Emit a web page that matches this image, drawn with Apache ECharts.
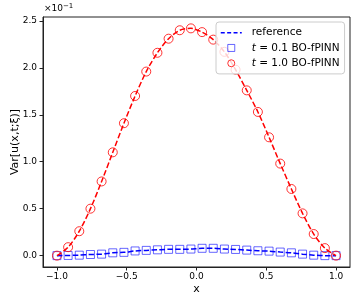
<!DOCTYPE html>
<html>
<head>
<meta charset="utf-8">
<script src="https://cdn.jsdelivr.net/npm/echarts@6/dist/echarts.min.js"></script>
<style>html,body{margin:0;padding:0;background:#fff}#c{width:357px;height:303px}</style>
</head>
<body>
<div id="c"></div>
<script>
// x grid (markers every 0.08)
const xs = [-1.00,-0.92,-0.84,-0.76,-0.68,-0.60,-0.52,-0.44,-0.36,-0.28,-0.20,-0.12,-0.04,
             0.04, 0.12, 0.20, 0.28, 0.36, 0.44, 0.52, 0.60, 0.68, 0.76, 0.84, 0.92, 1.00];
// variance values in units of 1e-1
const varT01 = [0.000,0.002,0.005,0.012,0.016,0.030,0.035,0.050,0.056,0.062,0.067,0.067,0.070,
                0.078,0.078,0.070,0.066,0.059,0.052,0.048,0.038,0.030,0.016,0.005,0.000,0.000];
const varT10 = [0.00,0.09,0.26,0.50,0.79,1.10,1.41,1.70,1.96,2.16,2.31,2.40,2.42,
                2.38,2.30,2.17,1.98,1.76,1.53,1.26,0.98,0.71,0.45,0.23,0.08,0.00];
const xTicks = [-1.0,-0.5,0.0,0.5,1.0];
const yTicks = [0.0,0.5,1.0,1.5,2.0,2.5];

const pair = (a) => xs.map((x,i)=>[x,a[i]]);
const fmt = v => (v < 0 ? '\u2212' : '') + Math.abs(v).toFixed(1);
const axisColor = '#222';
const font = 'DejaVu Sans';

const chart = echarts.init(document.getElementById('c'), null, {renderer:'canvas'});
chart.setOption({
  animation:false,
  backgroundColor:'#fff',
  grid:{left:43,right:7,top:17,bottom:36,containLabel:false,outerBoundsMode:'none',
        show:true,borderColor:axisColor,borderWidth:1,backgroundColor:'transparent'},
  xAxis:{
    type:'value',min:-1.1,max:1.1,
    name:'x',nameLocation:'middle',nameGap:17,nameMoveOverlap:false,
    nameTextStyle:{fontFamily:font,fontSize:11,color:'#000'},
    axisLine:{show:true,onZero:false,lineStyle:{color:axisColor,width:1}},
    axisTick:{show:true,inside:false,length:3.5,lineStyle:{color:axisColor},customValues:xTicks},
    axisLabel:{show:true,margin:5,fontFamily:font,fontSize:9,color:'#000',formatter:fmt,customValues:xTicks},
    splitLine:{show:false}
  },
  yAxis:{
    type:'value',min:-0.121,max:2.541,
    name:'Var[u(x,t;\u03BE)]',nameLocation:'middle',nameGap:22,nameRotate:90,nameMoveOverlap:false,
    nameTextStyle:{fontFamily:font,fontSize:11,color:'#000'},
    axisLine:{show:true,onZero:false,lineStyle:{color:axisColor,width:1}},
    axisTick:{show:true,inside:false,length:3.5,lineStyle:{color:axisColor},customValues:yTicks},
    axisLabel:{show:true,margin:6,fontFamily:font,fontSize:9,color:'#000',formatter:fmt,customValues:yTicks},
    splitLine:{show:false}
  },
  legend:{
    orient:'vertical',left:216,top:22,
    backgroundColor:'rgba(255,255,255,0.8)',borderColor:'#ccc',borderWidth:1,borderRadius:3,
    padding:[4,5,4,4],itemGap:2,itemWidth:21,itemHeight:7,
    itemStyle:{borderWidth:1},
    textStyle:{fontFamily:font,fontSize:10.5,color:'#000',lineHeight:13.3,padding:[0,0,0,5],
      rich:{i:{fontFamily:font,fontStyle:'italic',fontSize:10.5,color:'#000'}}},
    formatter: n => n==='reference' ? 'reference' : (n==='t01' ? '{i|t} = 0.1 BO-fPINN' : '{i|t} = 1.0 BO-fPINN'),
    data:[
      {name:'reference',itemStyle:{opacity:0},lineStyle:{type:[4,2.4],width:1.5}},
      {name:'t01',icon:'path://M0,0L10,0L10,10L0,10Z'},
      {name:'t10',icon:'circle'}
    ]
  },
  graphic:[{
    type:'text',left:44,top:3,
    style:{text:'\u00D710{s|\u22121}',fontFamily:font,fontSize:9,fill:'#000',
      rich:{s:{fontFamily:font,fontSize:7,fill:'#000',verticalAlign:'top',padding:[0,0,5,0]}}}
  }],
  series:[
    {name:'t01',type:'scatter',data:pair(varT01),symbol:'rect',symbolSize:8,z:2,
     itemStyle:{color:'none',borderColor:'rgba(0,0,255,0.75)',borderWidth:1}},
    {name:'t10',type:'scatter',data:pair(varT10),symbol:'circle',symbolSize:9,z:2,
     itemStyle:{color:'none',borderColor:'#ff0000',borderWidth:1}},
    {name:'reference',type:'line',data:pair(varT01),symbol:'none',smooth:0.3,z:3,
     lineStyle:{color:'#0000ff',width:1.5,type:[5.5,2.4]},itemStyle:{color:'#0000ff'}},
    {name:'ref10',type:'line',data:pair(varT10),symbol:'none',smooth:0.3,z:3,
     lineStyle:{color:'#ff0000',width:1.5,type:[5.5,2.4]},itemStyle:{color:'#ff0000'}}
  ]
});
</script>
</body>
</html>
